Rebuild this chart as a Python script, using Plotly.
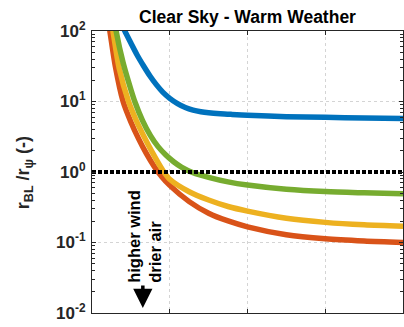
import plotly.graph_objects as go

# ---- data ----
x_blue = [0.34, 0.42, 0.5, 0.58, 0.66, 0.75, 0.83, 0.91, 1.0, 1.1, 1.2, 1.3, 1.4, 1.5, 1.65, 1.8, 2.0, 2.5, 3.0, 3.5, 4.0]
y_blue = [165, 101, 67.6, 45.7, 32.4, 22.6, 17.2, 13.6, 11.1, 9.33, 8.22, 7.55, 7.16, 6.92, 6.70, 6.56, 6.4, 6.1, 5.96, 5.85, 5.75]

x_red = [0.18, 0.23, 0.3, 0.4, 0.5, 0.6, 0.7, 0.8, 0.9, 1.0, 1.25, 1.5, 1.75, 2.0, 2.5, 3.0, 3.5, 4.0]
y_red = [224, 100, 31.6, 10, 5.13, 2.95, 1.82, 1.2, 0.85, 0.646, 0.38, 0.26, 0.202, 0.167, 0.129, 0.113, 0.105, 0.1]

x_yel = [0.22, 0.27, 0.35, 0.47, 0.57, 0.67, 0.77, 0.9, 1.0, 1.25, 1.5, 1.75, 2.0, 2.5, 3.0, 3.5, 4.0]
y_yel = [224, 100, 29.5, 10, 5.37, 3.16, 1.95, 1.1, 0.79, 0.525, 0.40, 0.324, 0.279, 0.221, 0.193, 0.178, 0.17]

x_grn = [0.26, 0.31, 0.4, 0.5, 0.55, 0.65, 0.75, 0.85, 0.95, 1.05, 1.15, 1.3, 1.5, 1.75, 2.0, 2.5, 3.0, 3.5, 4.0]
y_grn = [224, 100, 35.5, 14.8, 10, 5.37, 3.31, 2.29, 1.74, 1.40, 1.175, 0.977, 0.84, 0.724, 0.653, 0.569, 0.527, 0.506, 0.49]

x_ref = [0, 4]
y_ref = [1, 1]

ytick_vals = [0.01, 0.1, 1, 10, 100]
ytick_text = ["10<sup>-2</sup>", "10<sup>-1</sup>", "10<sup>0</sup>", "10<sup>1</sup>", "10<sup>2</sup>"]
xtick_vals = [0, 1, 2, 3, 4]
minor_vals = [k * d for d in [0.01, 0.1, 1, 10] for k in range(2, 10)]

FONT = "Liberation Sans, Arial, sans-serif"

fig = go.Figure()
series = [
    (x_blue, y_blue, "#0072BD"),
    (x_red, y_red, "#D95319"),
    (x_yel, y_yel, "#EDB120"),
    (x_grn, y_grn, "#77AC30"),
]
for xs, ys, c in series:
    fig.add_trace(go.Scatter(x=xs, y=ys, mode="lines",
                             line=dict(color=c, width=5.5, shape="spline", smoothing=0.8),
                             showlegend=False, hoverinfo="skip"))

fig.add_trace(go.Scatter(x=x_ref, y=y_ref, mode="lines",
                         line=dict(color="black", width=4, dash="4px,2px"),
                         showlegend=False, hoverinfo="skip"))

fig.update_layout(
    width=404, height=327,
    margin=dict(l=92, r=1, t=31, b=14),
    paper_bgcolor="white", plot_bgcolor="white",
    font=dict(family=FONT, color="black"),
    title=dict(text="<b>Clear Sky - Warm Weather</b>", x=(92 + 403) / 2 / 404, xanchor="center",
               yref="container", y=1 - 17 / 327, yanchor="middle",
               font=dict(size=17.5, family=FONT, color="black")),
)

fig.update_xaxes(
    range=[0, 4], tickvals=xtick_vals, showticklabels=False,
    ticks="inside", ticklen=4, tickcolor="#262626",
    showline=True, linecolor="#262626", linewidth=1.2, mirror="ticks",
    showgrid=True, gridcolor="#d4d4d4", griddash="dot", gridwidth=1,
    zeroline=False,
)
fig.update_yaxes(
    type="log", range=[-2, 2], tickvals=ytick_vals, ticktext=ytick_text,
    ticks="inside", ticklen=4, tickcolor="#262626",
    tickfont=dict(size=17, family=FONT, color="#262626", weight="bold"),
    showline=True, linecolor="#262626", linewidth=1.2, mirror="ticks",
    showgrid=True, gridcolor="#d4d4d4", griddash="dot", gridwidth=1,
    zeroline=False, ticklabelstandoff=2,
    minor=dict(tickvals=minor_vals, ticks="inside", ticklen=2.5, tickcolor="#262626",
               tickwidth=1, showgrid=False),
)

# y-axis title
fig.add_annotation(text="<b>r<sub>BL</sub> /r<sub>ψ</sub> (-)</b>", textangle=-90,
                   xref="paper", yref="paper", x=(24 - 92) / 312, y=(313 - 173) / 282,
                   xanchor="center", yanchor="middle", showarrow=False,
                   font=dict(size=18, family=FONT, color="#262626"))

# direction note
fig.add_annotation(text="<b>higher wind<br>drier air</b>", textangle=-90, align="left",
                   xref="paper", yref="paper", x=(144 - 92) / 312, y=(313 - 236) / 282,
                   xanchor="center", yanchor="middle", showarrow=False,
                   font=dict(size=16.5, family=FONT, color="black"))
fig.add_annotation(text="", xref="paper", yref="paper",
                   x=(143 - 92) / 312, y=(313 - 308) / 282,
                   axref="pixel", ayref="pixel", ax=0, ay=-24,
                   showarrow=True, arrowhead=2, arrowsize=1.1, arrowwidth=3.5, arrowcolor="black")

fig.write_html("out.html")
